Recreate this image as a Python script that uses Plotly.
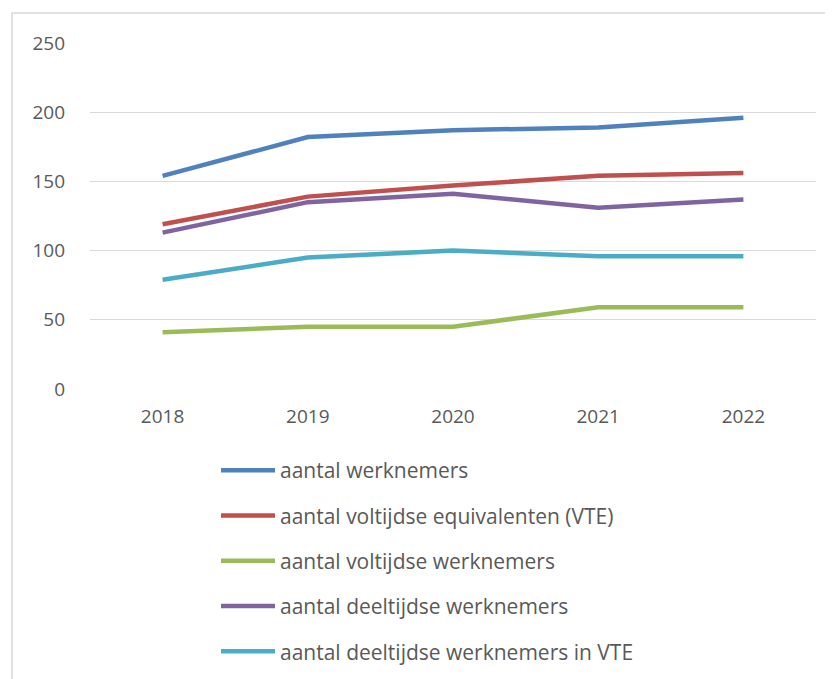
import plotly.graph_objects as go

years = ["2018", "2019", "2020", "2021", "2022"]
aantal_werknemers = [154, 182, 187, 189, 196]
aantal_vte = [119, 139, 147, 154, 156]
aantal_voltijdse = [41, 45, 45, 59, 59]
aantal_deeltijdse = [113, 135, 141, 131, 137]
aantal_deeltijdse_vte = [79, 95, 100, 96, 96]

series_names = [
    "aantal werknemers",
    "aantal voltijdse equivalenten (VTE)",
    "aantal voltijdse werknemers",
    "aantal deeltijdse werknemers",
    "aantal deeltijdse werknemers in VTE",
]
series_values = [aantal_werknemers, aantal_vte, aantal_voltijdse, aantal_deeltijdse, aantal_deeltijdse_vte]
colors = ["#4F81BD", "#C0504D", "#9BBB59", "#8064A2", "#4BACC6"]
y_ticks = [0, 50, 100, 150, 200, 250]

fig = go.Figure()
for i, (name, vals, c) in enumerate(zip(series_names, series_values, colors)):
    fig.add_trace(go.Scatter(
        x=years, y=vals, name=name, mode="lines",
        line=dict(color=c, width=4.5),
        legendgroup=f"g{i}",
    ))

OFF = 8  # page body margin
W, H = 833, 679
L, R, T, B = 90 - OFF, 17 + OFF, 43 - OFF, 290 + OFF
pw, ph = W - L - R, H - T - B

def px_x(p):
    return (p - OFF - L) / pw

def px_y(p):
    return (H - B - (p - OFF)) / ph

fig.update_layout(
    width=W, height=H,
    margin=dict(l=L, r=R, t=T, b=B, pad=0),
    paper_bgcolor="white", plot_bgcolor="white",
    font=dict(family="Open Sans, Noto Sans, sans-serif", color="#595959", size=19),
    showlegend=True,
    legend=dict(
        orientation="v", x=px_x(216), y=px_y(450), xanchor="left", yanchor="top",
        font=dict(size=21, color="#595959"),
        tracegroupgap=15, traceorder="grouped",
        itemwidth=54,
        bgcolor="rgba(0,0,0,0)",
    ),
    xaxis=dict(
        type="category", range=[-0.5, 4.5], showgrid=False, zeroline=False, showline=False,
        ticks="", tickfont=dict(size=19, color="#595959"),
        ticklabelstandoff=14,
    ),
    yaxis=dict(
        range=[0, 250], tickvals=y_ticks, showgrid=True, gridcolor="#D9D9D9", gridwidth=1.2,
        zeroline=False, showline=False, ticks="",
        tickfont=dict(size=19, color="#595959"),
        ticklabelstandoff=24,
    ),
    shapes=[dict(
        type="rect", xref="paper", yref="paper",
        x0=px_x(12), x1=px_x(845), y0=px_y(695), y1=px_y(13),
        line=dict(color="#D9D9D9", width=1.5), fillcolor="rgba(0,0,0,0)", layer="below",
    )],
)

fig.write_html("out.html")
